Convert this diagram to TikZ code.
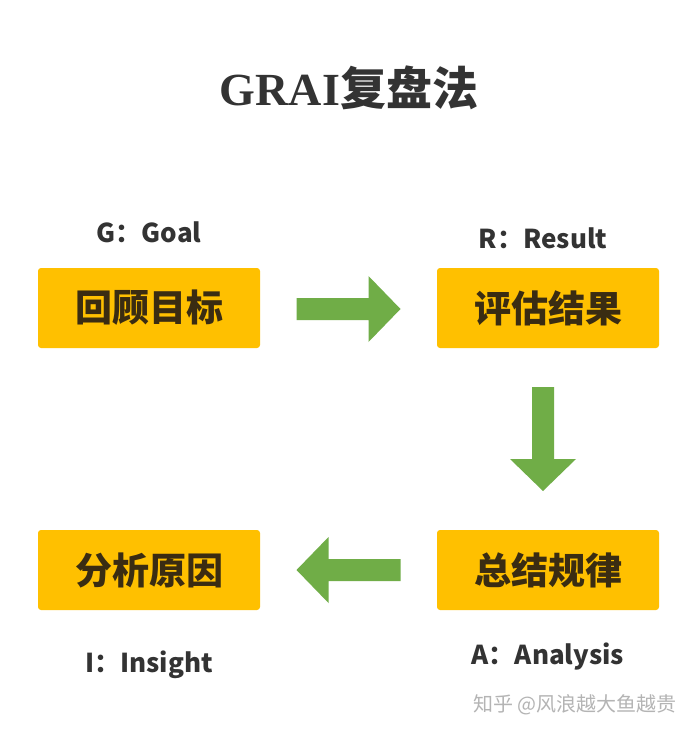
\documentclass[tikz,border=0pt]{standalone}
\usepackage{fontspec}
\usetikzlibrary{calc}
\newfontfamily\cjk{Noto Sans CJK SC}
\newfontfamily\serifen{Liberation Serif}
\definecolor{boxyellow}{HTML}{FFC000}
\definecolor{arrowgreen}{HTML}{70AD47}
\definecolor{textdark}{HTML}{333333}
\definecolor{boxtext}{HTML}{3A2C12}
\definecolor{markgray}{HTML}{B4B4B4}
\tikzset{
  stepbox/.style={fill=boxyellow, rounded corners=3pt, minimum width=222pt, minimum height=80pt,
    inner sep=0pt, text=boxtext, font=\cjk\bfseries\fontsize{37}{40}\selectfont},
  tag/.style={text=textdark, inner sep=0pt, font=\cjk\bfseries\fontsize{26}{30}\selectfont}
}
\begin{document}
\begin{tikzpicture}[x=1pt, y=1pt, line join=round]
	\useasboundingbox[fill=white] (0,0) rectangle (697,-733);
	\node[text=textdark, inner sep=0pt] (title) at (349,-88) {\fontsize{46}{50}\selectfont\bfseries\serifen GRAI\cjk 复盘法};
	\path (149,-308) coordinate (G) (548,-308) coordinate (R) (548,-570) coordinate (A) (149,-570) coordinate (I);
	\node[stepbox] (goal) at (G) {回顾目标};
	\node[stepbox] (result) at (R) {评估结果};
	\node[stepbox] (analysis) at (A) {总结规律};
	\node[stepbox] (insight) at (I) {分析原因};
	\node[tag] (gtag) at (149,-232) {G：Goal};
	\node[tag] (rtag) at (543,-238) {R：Result};
	\node[tag] (atag) at (548,-657) {A：Analysis};
	\node[tag] (itag) at (149,-665) {I：Insight};
	% block arrows between the boxes
	\path ($(goal.east)!0.5!(result.west)+(0,-1)$) coordinate (GR) ($(result.south)!0.5!(analysis.north)+(-5,0)$) coordinate (RA) ($(analysis.west)!0.5!(insight.east)$) coordinate (AI);
	\foreach \p/\r in {GR/0, RA/-90, AI/180}
		\fill[arrowgreen, shift={(\p)}, rotate=\r] (-52,-11) -- (20,-11) -- (20,-33) -- (52,0) -- (20,33) -- (20,11) -- (-52,11) -- cycle;
	\node[text=markgray, inner sep=0pt, font=\cjk\fontsize{20}{23}\selectfont] (mark) at (575,-705) {知乎 @风浪越大鱼越贵};
\end{tikzpicture}
\end{document}
